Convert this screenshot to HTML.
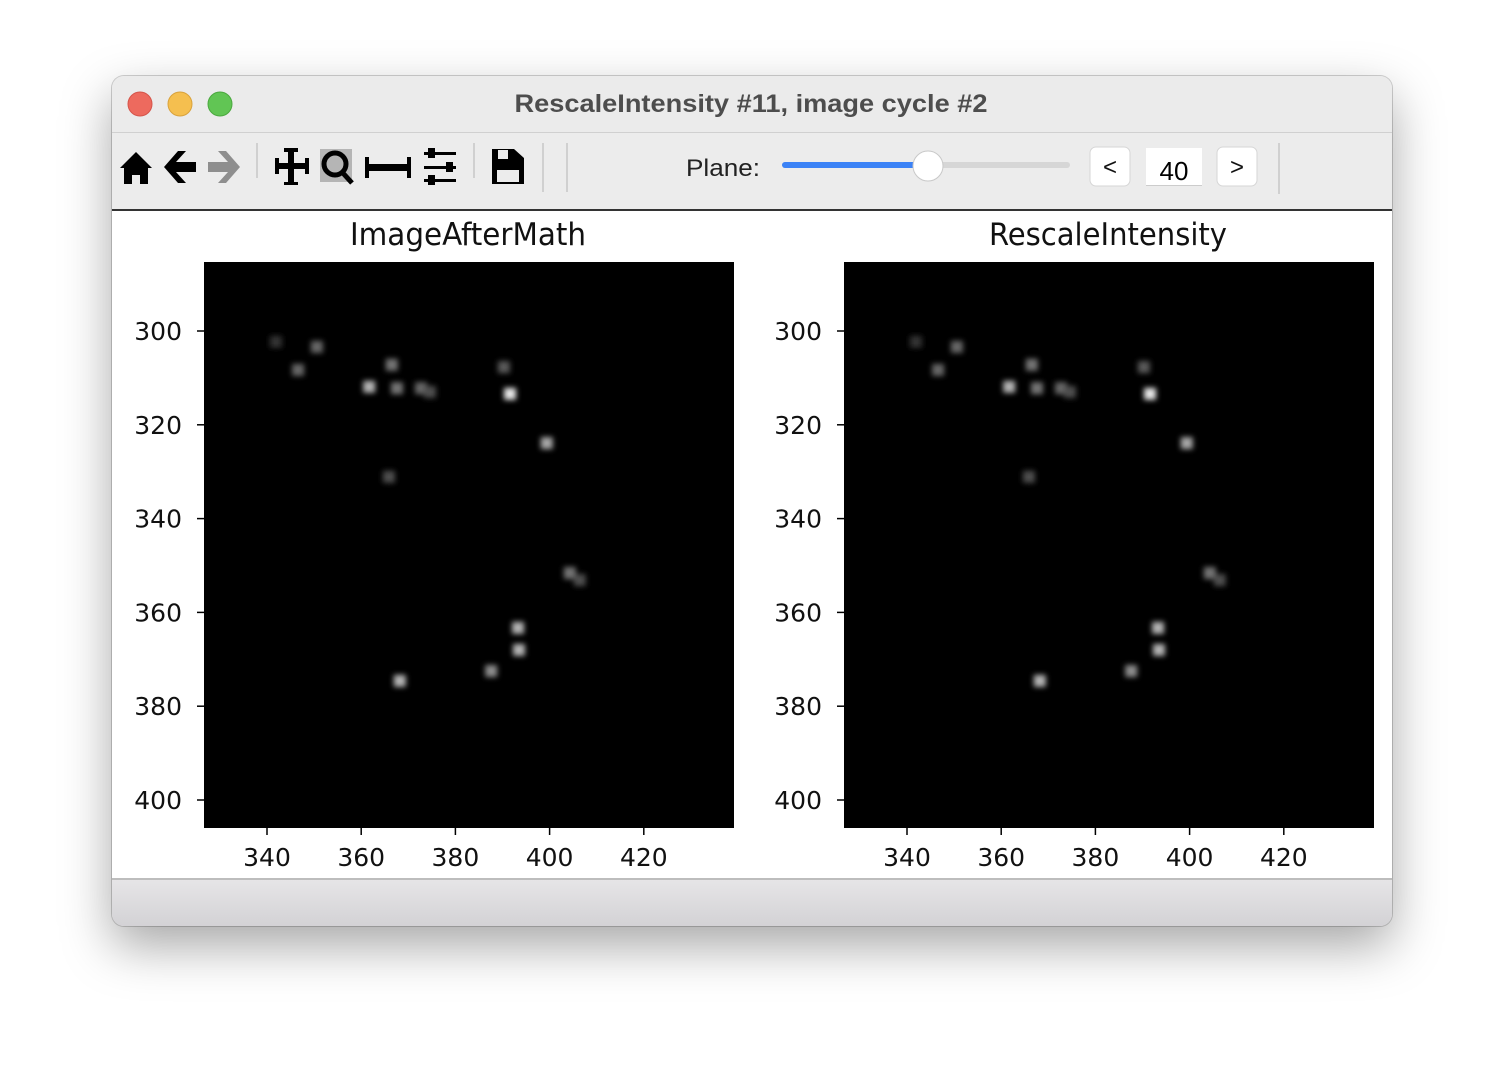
<!DOCTYPE html>
<html><head><meta charset="utf-8"><style>
html,body{margin:0;padding:0;width:1504px;height:1074px;background:#fff;overflow:hidden;font-family:"Liberation Sans",sans-serif}
#win{position:absolute;left:112px;top:76px;width:1280px;height:850px;border-radius:12px;overflow:hidden;background:#ececec;box-shadow:0 20px 50px rgba(0,0,0,0.35),0 0 0 1px rgba(0,0,0,0.18)}
</style></head><body>
<div id="win">
<svg width="1280" height="850" viewBox="112 76 1280 850" xmlns="http://www.w3.org/2000/svg" style="position:absolute;left:0;top:0">
<defs>
<linearGradient id="bot" x1="0" y1="0" x2="0" y2="1"><stop offset="0" stop-color="#e6e5e7"/><stop offset="1" stop-color="#d3d2d5"/></linearGradient>
<filter id="blur" x="-50%" y="-50%" width="200%" height="200%"><feGaussianBlur stdDeviation="2.6"/></filter>
<clipPath id="clipL"><rect x="204" y="262" width="530" height="566"/></clipPath>
<clipPath id="clipR"><rect x="844" y="262" width="530" height="566"/></clipPath>
</defs>
<rect x="112" y="76" width="1280" height="56" fill="#ebebeb"/>
<line x1="112" y1="132.5" x2="1392" y2="132.5" stroke="#d0d0d0"/>
<circle cx="140" cy="104" r="12" fill="#ed6a5e" stroke="#d5544a"/>
<circle cx="180" cy="104" r="12" fill="#f5bf4f" stroke="#d9a23b"/>
<circle cx="220" cy="104" r="12" fill="#61c554" stroke="#4aa83e"/>
<text x="751" y="112" text-anchor="middle" font-size="25" font-weight="bold" fill="#4d4d4d" textLength="473" lengthAdjust="spacingAndGlyphs">RescaleIntensity #11, image cycle #2</text>
<rect x="112" y="133" width="1280" height="76" fill="#ececec"/>
<g><path d="M120 168 L136 152 L152 168 L148 168 L148 184 L140 184 L140 175 L132 175 L132 184 L124 184 L124 168 Z" fill="#000"/></g>
<g><path d="M164 167 L178 151 L186 151 L176 162 L196 162 L196 172 L176 172 L186 183 L178 183 Z" fill="#000"/></g>
<g><path d="M240 167 L226 151 L218 151 L228 162 L208 162 L208 172 L228 172 L218 183 L226 183 Z" fill="#8e8e8e"/></g>
<line x1="257" y1="143" x2="257" y2="178" stroke="#d0d0d0" stroke-width="2"/>
<g fill="#000"><rect x="288" y="150" width="6" height="34"/><rect x="276" y="163" width="32" height="6"/><rect x="284" y="148" width="14" height="4"/><rect x="284" y="182" width="14" height="3"/><rect x="275" y="158" width="4" height="16"/><rect x="305" y="158" width="4" height="16"/></g>
<g><rect x="320" y="149" width="32" height="33" fill="#b5b5b5"/><circle cx="335" cy="164" r="11" fill="none" stroke="#000" stroke-width="5"/><line x1="342" y1="172" x2="352" y2="183" stroke="#000" stroke-width="5"/></g>
<g fill="#000"><rect x="366" y="164" width="44" height="7"/><rect x="365" y="157" width="4" height="21"/><rect x="407" y="157" width="4" height="21"/></g>
<g fill="#000"><rect x="424" y="152" width="32" height="3"/><rect x="424" y="166" width="32" height="3"/><rect x="424" y="179" width="32" height="3"/><rect x="428" y="148" width="7" height="10"/><rect x="446" y="162" width="7" height="10"/><rect x="428" y="175" width="7" height="10"/></g>
<line x1="474" y1="143" x2="474" y2="178" stroke="#d0d0d0" stroke-width="2"/>
<g><path d="M492 149 L514 149 L524 158 L524 184 L492 184 Z" fill="#000"/><rect x="498" y="150" width="10" height="9" fill="#ececec"/><rect x="497" y="170" width="22" height="12" fill="#ececec"/></g>
<line x1="543" y1="143" x2="543" y2="192" stroke="#d0d0d0" stroke-width="2"/>
<line x1="567" y1="143" x2="567" y2="192" stroke="#d0d0d0" stroke-width="2"/>
<text x="686" y="176" font-size="24" fill="#222" textLength="74" lengthAdjust="spacingAndGlyphs">Plane:</text>
<g><rect x="782" y="162" width="288" height="6" rx="3" fill="#d6d6d6"/><rect x="782" y="162" width="146" height="6" rx="3" fill="#3b82f6"/><circle cx="928" cy="166" r="15" fill="#fff" stroke="#c8c8c8"/></g>
<g><rect x="1090" y="147" width="40" height="39" rx="6" fill="#fff" stroke="#d6d6d6"/><text x="1110" y="175" font-size="24" text-anchor="middle" fill="#111">&lt;</text></g>
<g><rect x="1146" y="148" width="56" height="38" fill="#fff"/><line x1="1146" y1="185.5" x2="1202" y2="185.5" stroke="#ccc"/><text x="1174" y="180" font-size="26" text-anchor="middle" fill="#000">40</text></g>
<g><rect x="1217" y="147" width="40" height="39" rx="6" fill="#fff" stroke="#d6d6d6"/><text x="1237" y="175" font-size="24" text-anchor="middle" fill="#111">&gt;</text></g>
<line x1="1279" y1="143" x2="1279" y2="194" stroke="#d0d0d0" stroke-width="2"/>
<rect x="112" y="209" width="1280" height="2" fill="#333"/>
<rect x="112" y="211" width="1280" height="667" fill="#fff"/>
<line x1="112" y1="879" x2="1392" y2="879" stroke="#bdbdbd" stroke-width="2"/>
<rect x="112" y="880" width="1280" height="46" fill="url(#bot)"/>
<g id="plots"></g>
</svg>
</div>
<script>
const xTicks=[340,360,380,400,420];
const yTicks=[300,320,340,360,380,400];
const panelTitles=["ImageAfterMath","RescaleIntensity"];
const spotX=[350.6,346.6,341.9,366.5,361.7,367.6,372.7,374.6,390.3,391.6,399.4,365.9,404.3,406.4,393.3,393.5,387.6,368.2];
const spotY=[303.4,308.3,302.3,307.2,311.9,312.2,312.2,313.0,307.7,313.4,323.9,331.1,351.6,353.1,363.3,368.0,372.5,374.6];
const spotI=[0.4,0.4,0.2,0.45,0.7,0.45,0.4,0.3,0.35,0.9,0.65,0.3,0.45,0.3,0.7,0.7,0.55,0.7];
const NS="http://www.w3.org/2000/svg";
const g=document.getElementById('plots');
function mk(t,a){const e=document.createElementNS(NS,t);for(const k in a)e.setAttribute(k,a[k]);return e;}
[204,844].forEach((x0,p)=>{
  const sx=v=>x0+63+(v-340)*4.71;
  const sy=v=>331+(v-300)*4.69;
  const pg=mk('g',{});
  
  
  const bg=mk('rect',{x:x0,y:262,width:530,height:566,fill:'#000'});
  
  
  pg.appendChild(bg);
  const sg=mk('g',{filter:'url(#blur)','clip-path':p?'url(#clipR)':'url(#clipL)'});
  spotX.forEach((v,i)=>{
    const c=Math.round(255*spotI[i]);
    const r=mk('rect',{x:sx(v)-6,y:sy(spotY[i])-6,width:12,height:12,fill:`rgb(${c},${c},${c})`});
    
    
    sg.appendChild(r);
  });
  pg.appendChild(sg);
  const t=mk('text',{x:x0+264,y:245,'text-anchor':'middle','font-size':31,fill:'#111','font-family':'"DejaVu Sans Condensed","DejaVu Sans",sans-serif',textLength:p?238:236,lengthAdjust:'spacingAndGlyphs'});
  t.textContent=panelTitles[p];
  
  
  pg.appendChild(t);
  xTicks.forEach(v=>{
    pg.appendChild(mk('line',{x1:sx(v),y1:828,x2:sx(v),y2:835,stroke:'#000','stroke-width':1.5}));
    const l=mk('text',{x:sx(v),y:866,'text-anchor':'middle','font-size':25,fill:'#111','font-family':'"DejaVu Sans",sans-serif'});
    l.textContent=v;
    
    
    pg.appendChild(l);
  });
  yTicks.forEach(v=>{
    pg.appendChild(mk('line',{x1:x0-7,y1:sy(v),x2:x0,y2:sy(v),stroke:'#000','stroke-width':1.5}));
    const l=mk('text',{x:x0-22,y:sy(v)+9,'text-anchor':'end','font-size':25,fill:'#111','font-family':'"DejaVu Sans",sans-serif'});
    l.textContent=v;
    
    
    pg.appendChild(l);
  });
  g.appendChild(pg);
});
</script>
</body></html>
